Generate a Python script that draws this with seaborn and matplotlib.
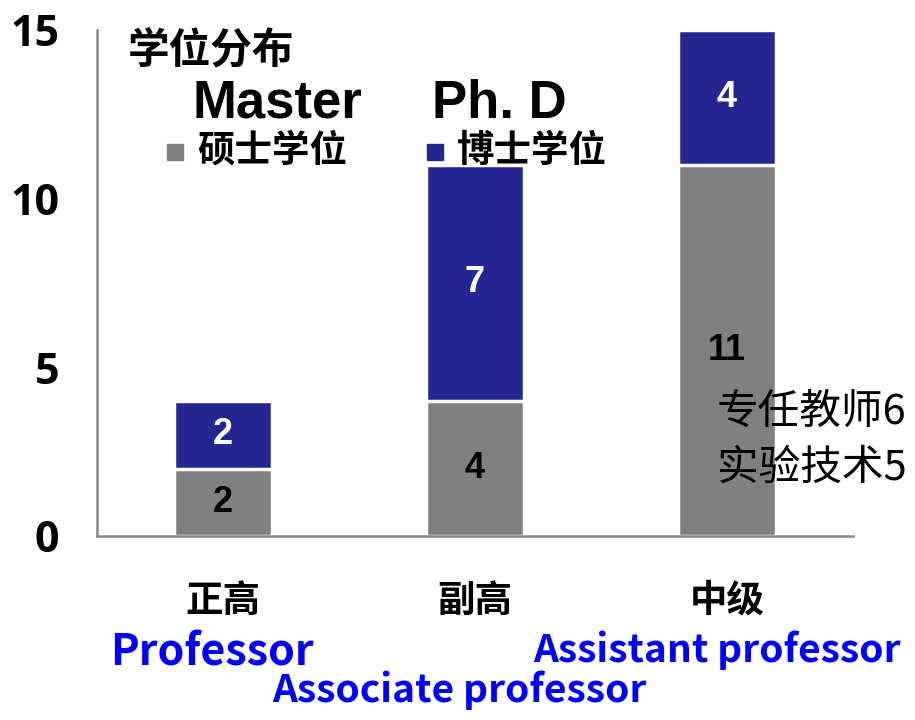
import matplotlib
matplotlib.use("Agg")
import matplotlib.pyplot as plt
import seaborn as sns
import pandas as pd

# === Data ===
levels = ["正高", "副高", "中级"]
levels_en = ["Professor", "Associate professor", "Assistant professor"]
master = [2, 4, 11]
phd = [2, 7, 4]
legend_title = "学位分布"
series_cn = ["硕士学位", "博士学位"]
series_en = ["Master", "Ph. D"]
note_lines = ["专任教师6", "实验技术5"]
y_ticks = [0, 5, 10, 15]

GRAY = "#808080"
BLUE = "#262693"
CJK = ["Noto Sans CJK SC", "DejaVu Sans"]

sns.set_style("white")
plt.rcParams["font.family"] = CJK
plt.rcParams["text.color"] = "black"
plt.rcParams["ytick.labelcolor"] = "black"

df = pd.DataFrame({"level": levels, "master": master, "phd": phd})
df["total"] = df["master"] + df["phd"]

fig = plt.figure(figsize=(9.15, 7.2), dpi=100)
ax = fig.add_axes([97 / 915, 1 - 536 / 720, (853 - 97) / 915, (536 - 30) / 720])

# stacked bars: total (blue) underneath, master (gray) on top of it
sns.barplot(data=df, x="level", y="total", color=BLUE, width=0.385,
            edgecolor="white", linewidth=2.5, saturation=1, ax=ax)
sns.barplot(data=df, x="level", y="master", color=GRAY, width=0.385,
            edgecolor="white", linewidth=2.5, saturation=1, ax=ax)

for i, (m, p) in enumerate(zip(master, phd)):
    ax.text(i, m / 2, str(m), ha="center", va="center", fontsize=26,
            fontweight="bold", family="Liberation Sans", color="black")
    ax.text(i, m + p / 2, str(p), ha="center", va="center", fontsize=26,
            fontweight="bold", family="Liberation Sans", color="white")

ax.set_xlim(-0.5, 2.5)
ax.set_ylim(0, 15)
ax.set_yticks(y_ticks)
ax.set_yticklabels([str(t) for t in y_ticks], fontsize=31, fontweight="bold",
                   family="Open Sans", color="black")
ax.tick_params(axis="y", direction="in", length=10, width=1.5, color="#888888", pad=27)
ax.set_xticks([-0.5, 0.5, 1.5, 2.5])
ax.set_xticklabels([])
ax.tick_params(axis="x", direction="in", length=10, width=1.5, color="#888888")
ax.set_xlabel("")
ax.set_ylabel("")
for s in ["top", "right"]:
    ax.spines[s].set_visible(False)
for s in ["left", "bottom"]:
    ax.spines[s].set_color("#888888")
    ax.spines[s].set_linewidth(1.8)

# category labels under the axis
for i, lab in enumerate(levels):
    ax.text(i, -1.9, lab, ha="center", va="center", fontsize=27, fontweight="bold",
            color="black")

def fx(px):
    return px / 915

def fy(py):
    return 1 - py / 720

# English titles in blue
en_pos = [(212, 653, 31), (459, 690, 28), (717, 650, 28)]
for (px, py, fs), lab in zip(en_pos, levels_en):
    fig.text(fx(px), fy(py), lab, ha="center", va="center", color="#0000FF",
             fontsize=fs, fontweight="bold")

# hand-made legend
fig.text(fx(128), fy(50), legend_title, ha="left", va="center", fontsize=30,
         fontweight="bold")
fig.text(fx(192), fy(104), series_en[0], ha="left", va="center", fontsize=38,
         fontweight="bold", family="Liberation Sans")
fig.text(fx(432), fy(104), series_en[1], ha="left", va="center", fontsize=38,
         fontweight="bold", family="Liberation Sans")
for px, col, lab in [(167, GRAY, series_cn[0]), (427, BLUE, series_cn[1])]:
    fig.patches.append(plt.Rectangle((fx(px), fy(160)), 16 / 915, 16 / 720,
                                     transform=fig.transFigure, color=col))
    fig.text(fx(px + 30), fy(150), lab, ha="left", va="center", fontsize=27,
             fontweight="bold")

fig.text(fx(717), fy(412), note_lines[0], ha="left", va="center", fontsize=30)
fig.text(fx(717), fy(468), note_lines[1], ha="left", va="center", fontsize=30)

fig.savefig("out.png", dpi=100)
